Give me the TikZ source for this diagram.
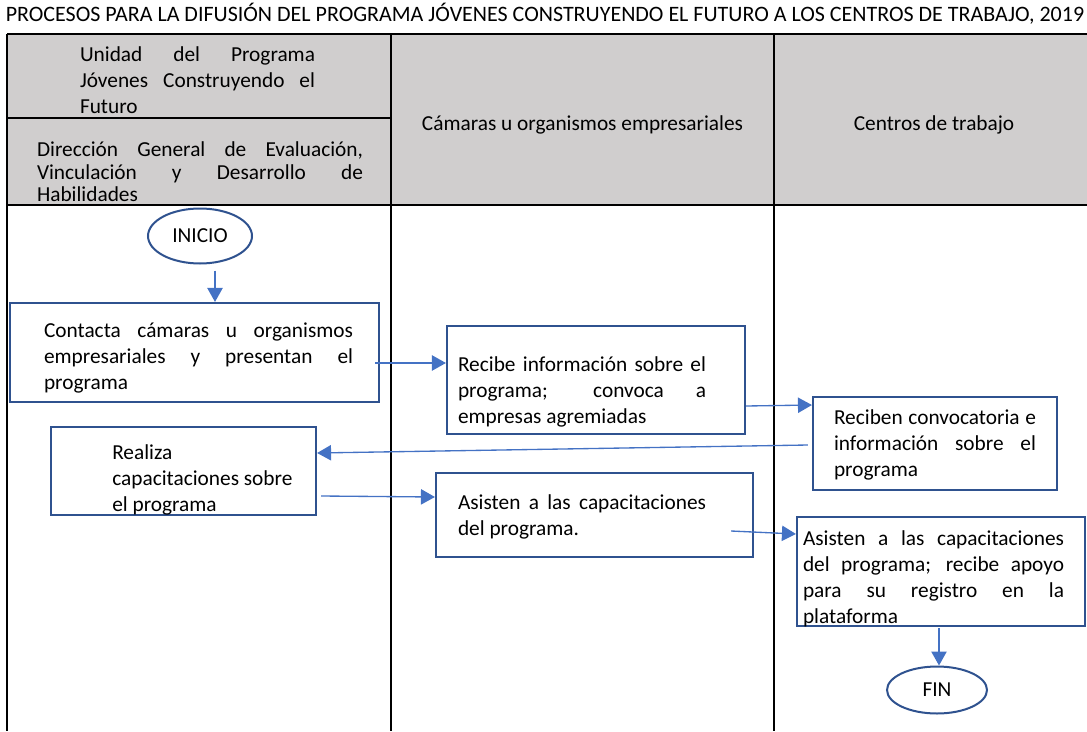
\documentclass[tikz,border=0pt]{standalone}
\usepackage{fontspec}
\setmainfont{Carlito}
\usepackage{tikz}
\usetikzlibrary{positioning, arrows.meta, shapes.geometric}

\definecolor{boxblue}{RGB}{47,82,143}
\definecolor{arrowblue}{RGB}{68,114,196}
\definecolor{headgray}{RGB}{208,206,206}
\newcommand{\boxfont}{\fontsize{16}{19.5}\selectfont\hyphenpenalty=10000\tolerance=10000\relax}
\newcommand{\tightfont}{\fontsize{16}{17}\selectfont\hyphenpenalty=10000\tolerance=10000\relax}

\begin{document}
\begin{tikzpicture}[
x=0.75pt, y=-0.75pt,
lane/.style={black, line width=1.5pt},
head/.style={font=\boxfont, inner sep=0pt},
task/.style={rectangle, draw=boxblue, fill=white, line width=1.6pt, inner sep=0pt},
tasktext/.style={font=\boxfont, align=justify, inner sep=0pt},
term/.style={ellipse, draw=boxblue, fill=white, line width=1.5pt, inner sep=0pt, font=\boxfont},
flow/.style={-{Triangle[length=10.5pt, width=11.5pt]}, draw=arrowblue, line width=1pt}
]
\useasboundingbox (0,0) rectangle (1087,731);

%Table
\fill[headgray] (7,34) rectangle (1094,205);
\draw[lane] (7,34) -- (1094,34);
\draw[lane] (7,205) -- (1094,205);
\draw[lane] (7,118) -- (391,118);
\draw[lane] (7,34) -- (7,731);
\draw[lane] (391,34) -- (391,731);
\draw[lane] (774,34) -- (774,731);

%Headers
\node[head] (title) at (545,14) {\fontsize{16.5}{19.5}\selectfont PROCESOS PARA LA DIFUSIÓN DEL PROGRAMA JÓVENES CONSTRUYENDO EL FUTURO A LOS CENTROS DE TRABAJO, 2019};
\node[head, text width=176.25pt, align=justify] (unidad) at (197.5,80) {Unidad del Programa\linebreak Jóvenes Construyendo el\linebreak Futuro};
\node[head, text width=244.5pt, align=justify, font=\tightfont] (direccion) at (200,172) {Dirección General de Evaluación,\linebreak Vinculación y Desarrollo de\linebreak Habilidades};
\node[head] (camaras) at (582.5,125) {Cámaras u organismos empresariales};
\node[head] (centros) at (934,125) {Centros de trabajo};

%Nodes
\node[term, minimum width=78pt, minimum height=41.25pt] (inicio) at (200,236) {INICIO};
\node[task, minimum width=276.75pt, minimum height=74.25pt] (contacta) at (194.5,352.5) {};
\node[task, minimum width=223.5pt, minimum height=81pt] (recibe) at (596,380) {};
\node[task, minimum width=183pt, minimum height=69.75pt] (reciben) at (935,443.5) {};
\node[task, minimum width=198.75pt, minimum height=66pt] (realiza) at (183.5,471) {};
\node[task, minimum width=237.75pt, minimum height=63pt] (asisten) at (594.5,515) {};
\node[task, minimum width=216pt, minimum height=81.75pt] (apoyo) at (941,571.5) {};
\node[term, minimum width=75pt, minimum height=35.25pt] (fin) at (937,690) {FIN};

%Texts
\node[tasktext, text width=231.75pt] (contactaT) at ([shift={(4,5.5)}]contacta.center) {Contacta cámaras u organismos\linebreak empresariales y presentan el\linebreak programa};
\node[tasktext, text width=186pt] (recibeT) at ([shift={(-14,12)}]recibe.center) {Recibe información sobre el\linebreak programa; convoca a\linebreak empresas agremiadas};
\node[tasktext, text width=151.5pt] (recibenT) at ([shift={(0,1.5)}]reciben.center) {Reciben convocatoria e\linebreak información sobre el\linebreak programa};
\node[tasktext, align=left, anchor=west] (realizaT) at ([shift={(-71.5,8.5)}]realiza.center) {Realiza\\ capacitaciones sobre\\ el programa};
\node[tasktext, text width=186pt] (asistenT) at ([shift={(-12.5,2)}]asisten.center) {Asisten a las capacitaciones\linebreak del programa.};
\node[tasktext, text width=195.75pt] (apoyoT) at ([shift={(-7.5,7.5)}]apoyo.center) {Asisten a las capacitaciones\linebreak del programa; recibe apoyo\linebreak para su registro en la\linebreak plataforma};

%Lines
\draw[flow] ([shift={(15,6)}]inicio.south) -- ([shift={(20.5,0)}]contacta.north);
\draw[flow] ([shift={(-5,10.5)}]contacta.east) -- ([shift={(0,-17)}]recibe.west);
\draw[flow] ([shift={(0,26)}]recibe.east) -- ([shift={(0,-38.5)}]reciben.west);
\draw[flow] ([shift={(-4,1.5)}]reciben.west) -- ([shift={(0,-18)}]realiza.east);
\draw[flow] ([shift={(4,25)}]realiza.east) -- ([shift={(0,-18)}]asisten.west);
\draw[flow] ([shift={(-23,16)}]asisten.east) -- ([shift={(0,-37.5)}]apoyo.west);
\draw[flow] ([shift={(-2,1)}]apoyo.south) -- ([shift={(2,0)}]fin.north);
\end{tikzpicture}
\end{document}
